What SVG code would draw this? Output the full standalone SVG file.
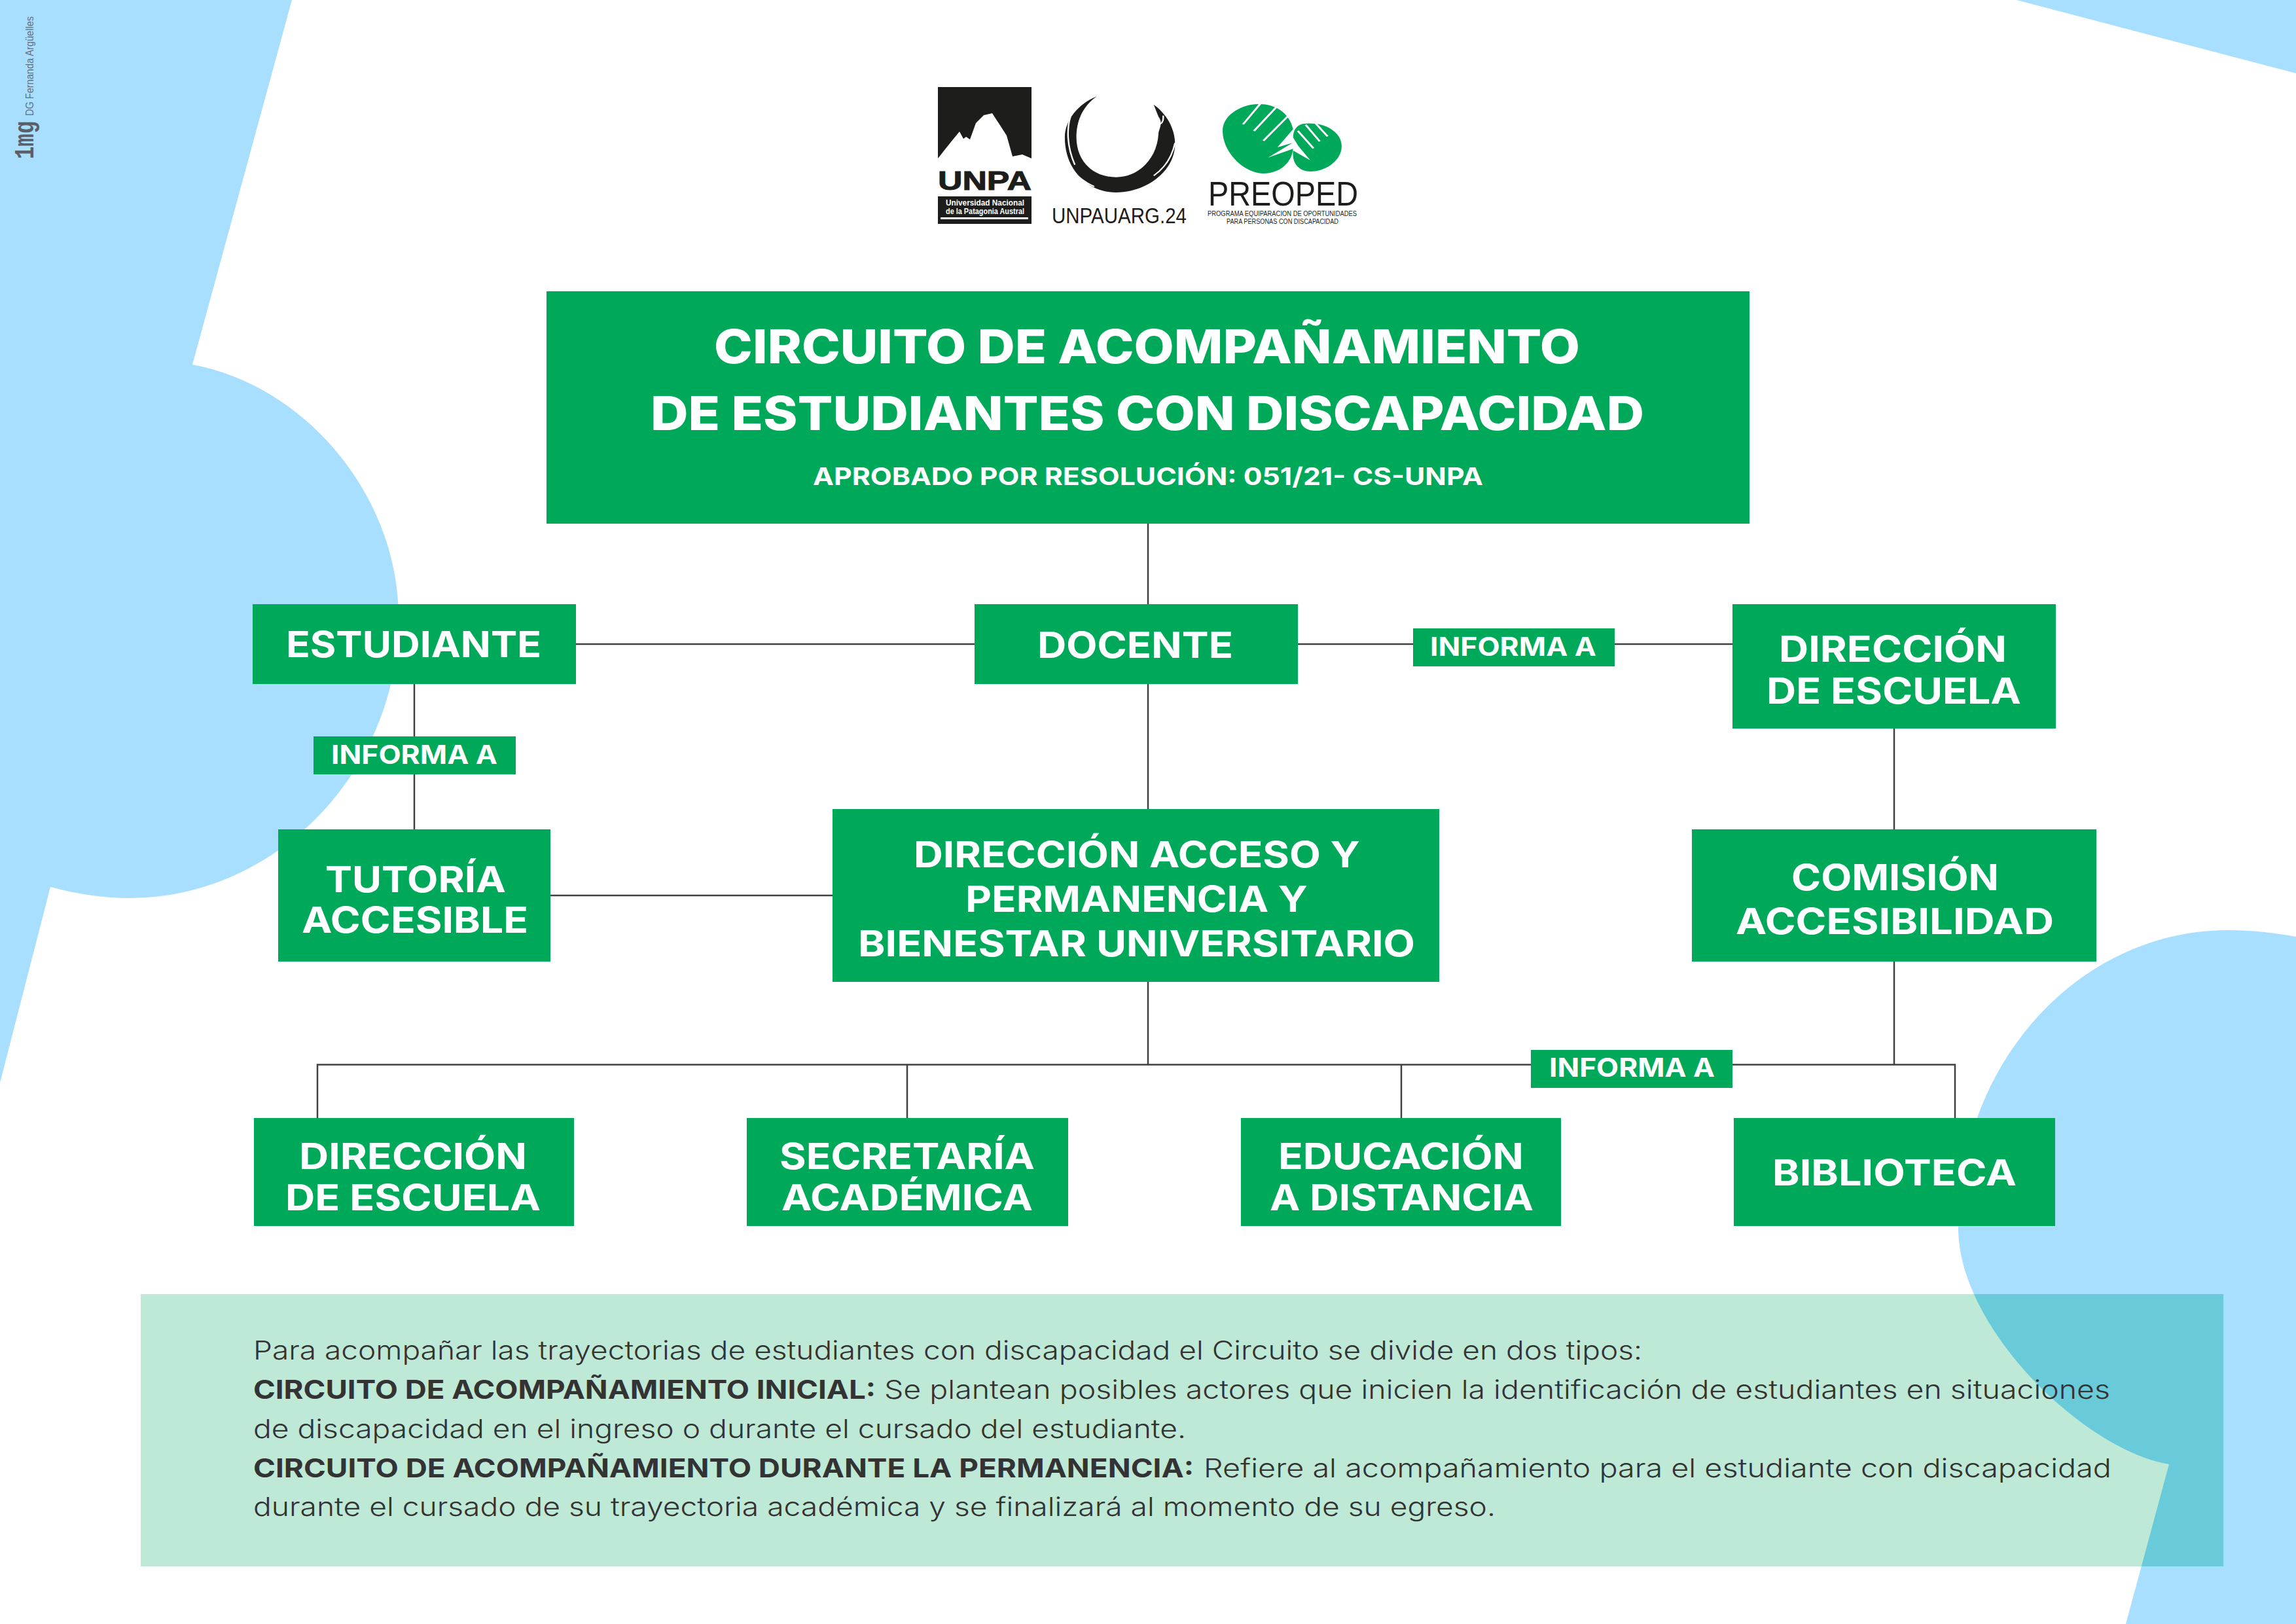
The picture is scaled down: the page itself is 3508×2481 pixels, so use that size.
<svg xmlns="http://www.w3.org/2000/svg" width="3508" height="2481" viewBox="0 0 3508 2481">
<style>
.bg{fill:#A8DFFF}
.box{fill:#00A85A}
.w{fill:#fff;font-family:"Inter","Liberation Sans",sans-serif;font-weight:700}
.t{font-size:72px;font-weight:800}
.s{font-size:37px}
.n{font-size:55px}
.g{font-size:39px}
.b{fill:#333;font-family:"Inter","Liberation Sans",sans-serif;font-size:40px;font-weight:300}
.bb{fill:#333;font-family:"Inter","Liberation Sans",sans-serif;font-size:40px;font-weight:700}
.c{fill:none;stroke:#404040;stroke-width:2.5}
.k{fill:#1D1D1B}
.lt{font-family:"Liberation Sans",sans-serif}
</style>
<defs>
<path id="br" d="M3248,2481 L3314,2237 C3185,2215 2992,2030 2992,1876 C2992,1620 3180,1421 3404,1421 C3440,1421 3475,1425 3508,1431 L3508,2481 Z"/>
<clipPath id="pn"><rect x="215" y="1977" width="3182" height="416"/></clipPath>
</defs>
<rect width="3508" height="2481" fill="#fff"/>
<g id="fondo">
<path class="bg" d="M0,0 L446,0 L294,557 C470,590 609,760 609,944 C609,1180 420,1372 198,1372 C155,1372 115,1365 77,1355 L0,1654 Z"/>
<path class="bg" d="M3081,0 L3508,112 L3508,0 Z"/>
<use href="#br" class="bg"/>
</g>
<g id="panel">
<rect x="215" y="1977" width="3182" height="416" fill="#BEE9D6"/>
<use href="#br" fill="#69CBD9" clip-path="url(#pn)"/>
<text class="b" x="387" y="2077" textLength="2122" lengthAdjust="spacingAndGlyphs">Para acompañar las trayectorias de estudiantes con discapacidad el Circuito se divide en dos tipos:</text>
<text class="bb" x="387" y="2137" textLength="951" lengthAdjust="spacingAndGlyphs">CIRCUITO DE ACOMPAÑAMIENTO INICIAL:</text>
<text class="b" x="1351" y="2137" textLength="1873" lengthAdjust="spacingAndGlyphs">Se plantean posibles actores que inicien la identificación de estudiantes en situaciones</text>
<text class="b" x="387" y="2197" textLength="1425" lengthAdjust="spacingAndGlyphs">de discapacidad en el ingreso o durante el cursado del estudiante.</text>
<text class="bb" x="387" y="2257" textLength="1437" lengthAdjust="spacingAndGlyphs">CIRCUITO DE ACOMPAÑAMIENTO DURANTE LA PERMANENCIA:</text>
<text class="b" x="1839" y="2257" textLength="1387" lengthAdjust="spacingAndGlyphs">Refiere al acompañamiento para el estudiante con discapacidad</text>
<text class="b" x="387" y="2316" textLength="1898" lengthAdjust="spacingAndGlyphs">durante el cursado de su trayectoria académica y se finalizará al momento de su egreso.</text>
</g>
<g id="firma" fill="#5F7180">
<text class="lt" transform="translate(51,177) rotate(-90)" font-size="16" textLength="152" lengthAdjust="spacingAndGlyphs">DG Fernanda Argüelles</text>
<text transform="translate(51,243) rotate(-90)" font-family="Liberation Mono,monospace" font-weight="700" font-size="42" textLength="58" lengthAdjust="spacingAndGlyphs" fill="#5A6068">1mg</text>
</g>
<g id="logo-unpa">
<path class="k" d="M1433,133 L1576,133 L1576,242 L1562,236 L1547,239 L1538,207 L1516,173 L1503,176 L1491,188 L1482,213 L1476,209 L1472,212 L1466,201 L1452,218 L1433,242 Z"/>
<text class="k lt" x="1433" y="290" font-size="40" font-weight="700" textLength="143" lengthAdjust="spacingAndGlyphs" stroke="#1D1D1B" stroke-width="1">UNPA</text>
<rect class="k" x="1433" y="300" width="143" height="42"/>
<text class="lt" x="1445" y="314" font-size="12" font-weight="700" fill="#fff" textLength="120" lengthAdjust="spacingAndGlyphs">Universidad  Nacional</text>
<text class="lt" x="1445" y="327" font-size="12" font-weight="700" fill="#fff" textLength="120" lengthAdjust="spacingAndGlyphs">de la Patagonia Austral</text>
<rect x="1437" y="332" width="134" height="3" fill="#fff"/>
</g>
<g id="logo-unpauarg">
<g transform="translate(1380,110) scale(0.4785,0.3333)">
<path class="k" d="M618,112 C560,145 516,220 516,300 C516,450 590,552 680,552 C780,552 868,450 868,330 C868,260 840,190 800,150 L815,205 C832,235 815,262 815,285 C810,400 750,482 680,482 C600,482 553,400 553,300 C553,230 570,160 618,112 Z"/>
<path fill="none" stroke="#fff" stroke-width="5" d="M534,205 C522,260 522,340 548,425 M868,325 C858,390 835,440 800,475 M540,445 C555,480 580,505 610,525 M830,200 C832,225 825,245 812,235"/>
</g>
<text class="k lt" x="1607" y="341" font-size="34" textLength="206" lengthAdjust="spacingAndGlyphs">UNPAUARG.24</text>
</g>
<g id="logo-preoped">
<g transform="translate(1380,110) scale(0.4785,0.3333)">
<path fill="#00A85A" d="M1110,150 C1170,135 1230,170 1245,262 L1195,345 L1243,325 L1165,392 L1245,352 C1240,420 1200,465 1150,465 C1090,465 1020,370 1020,270 C1020,210 1060,165 1110,150 Z"/>
<path fill="#00A85A" d="M1275,238 C1340,225 1400,270 1400,340 C1400,405 1350,456 1300,456 C1265,456 1240,420 1245,360 L1300,405 L1262,340 L1245,300 C1245,270 1255,245 1275,238 Z"/>
<path fill="none" stroke="#fff" stroke-width="7" d="M1142,142 L1085,240 M1192,160 L1120,270 M1228,203 L1150,315 M1315,232 L1355,295 M1285,242 L1330,318 M1260,270 L1310,350"/>
</g>
<text class="k lt" x="1846" y="314" font-size="52" textLength="229" lengthAdjust="spacingAndGlyphs">PREOPED</text>
<text class="k lt" x="1845" y="330" font-size="10" textLength="228" lengthAdjust="spacingAndGlyphs">PROGRAMA EQUIPARACION DE OPORTUNIDADES</text>
<text class="k lt" x="1874" y="342" font-size="10" textLength="171" lengthAdjust="spacingAndGlyphs">PARA PERSONAS CON DISCAPACIDAD</text>
</g>
<g id="connectors">
<path class="c" d="M1754,800 V1236"/>
<path class="c" d="M880,984 H1489"/>
<path class="c" d="M1983,984 H2647"/>
<path class="c" d="M633,1045 V1267"/>
<path class="c" d="M841,1368 H1272"/>
<path class="c" d="M2894,1113 V1626"/>
<path class="c" d="M1754,1500 V1626"/>
<path class="c" d="M485,1708 V1626.500 H2987 V1708"/>
<path class="c" d="M1386,1626 V1708"/>
<path class="c" d="M2141,1626 V1708"/>
</g>
<g id="titulo">
<rect class="box" x="835" y="445" width="1838" height="355"/>
<text class="w t" x="1091" y="555" textLength="1323" lengthAdjust="spacingAndGlyphs">CIRCUITO DE ACOMPAÑAMIENTO</text>
<text class="w t" x="994" y="657" textLength="1518" lengthAdjust="spacingAndGlyphs">DE ESTUDIANTES CON DISCAPACIDAD</text>
<text class="w s" x="1242" y="741" textLength="1024" lengthAdjust="spacingAndGlyphs">APROBADO POR RESOLUCIÓN: 051/21- CS-UNPA</text>
</g>
<g id="estudiante">
<rect class="box" x="386" y="923" width="494" height="122"/>
<text class="w n" x="437" y="1004" textLength="390" lengthAdjust="spacingAndGlyphs">ESTUDIANTE</text>
</g>
<g id="docente">
<rect class="box" x="1489" y="923" width="494" height="122"/>
<text class="w n" x="1585" y="1005" textLength="299" lengthAdjust="spacingAndGlyphs">DOCENTE</text>
</g>
<g id="direccion-escuela-1">
<rect class="box" x="2647" y="923" width="494" height="190"/>
<text class="w n" x="2718" y="1011" textLength="348" lengthAdjust="spacingAndGlyphs">DIRECCIÓN</text>
<text class="w n" x="2699" y="1075" textLength="389" lengthAdjust="spacingAndGlyphs">DE ESCUELA</text>
</g>
<g id="informa-1">
<rect class="box" x="479" y="1125" width="309" height="58"/>
<text class="w g" x="506" y="1167" textLength="254" lengthAdjust="spacingAndGlyphs">INFORMA A</text>
</g>
<g id="informa-2">
<rect class="box" x="2159" y="960" width="308" height="58"/>
<text class="w g" x="2185" y="1002" textLength="254" lengthAdjust="spacingAndGlyphs">INFORMA A</text>
</g>
<g id="informa-3">
<rect class="box" x="2339" y="1604" width="308" height="58"/>
<text class="w g" x="2367" y="1645" textLength="253" lengthAdjust="spacingAndGlyphs">INFORMA A</text>
</g>
<g id="tutoria">
<rect class="box" x="425" y="1267" width="416" height="202"/>
<text class="w n" x="497" y="1363" textLength="276" lengthAdjust="spacingAndGlyphs">TUTORÍA</text>
<text class="w n" x="461" y="1425" textLength="346" lengthAdjust="spacingAndGlyphs">ACCESIBLE</text>
</g>
<g id="direccion-acceso">
<rect class="box" x="1272" y="1236" width="927" height="264"/>
<text class="w n" x="1396" y="1325" textLength="682" lengthAdjust="spacingAndGlyphs">DIRECCIÓN ACCESO Y</text>
<text class="w n" x="1475" y="1393" textLength="523" lengthAdjust="spacingAndGlyphs">PERMANENCIA Y</text>
<text class="w n" x="1311" y="1461" textLength="851" lengthAdjust="spacingAndGlyphs">BIENESTAR UNIVERSITARIO</text>
</g>
<g id="comision">
<rect class="box" x="2585" y="1267" width="618" height="202"/>
<text class="w n" x="2737" y="1360" textLength="317" lengthAdjust="spacingAndGlyphs">COMISIÓN</text>
<text class="w n" x="2652" y="1427" textLength="486" lengthAdjust="spacingAndGlyphs">ACCESIBILIDAD</text>
</g>
<g id="direccion-escuela-2">
<rect class="box" x="388" y="1708" width="489" height="165"/>
<text class="w n" x="457" y="1786" textLength="348" lengthAdjust="spacingAndGlyphs">DIRECCIÓN</text>
<text class="w n" x="436" y="1849" textLength="390" lengthAdjust="spacingAndGlyphs">DE ESCUELA</text>
</g>
<g id="secretaria">
<rect class="box" x="1141" y="1708" width="491" height="165"/>
<text class="w n" x="1191" y="1786" textLength="390" lengthAdjust="spacingAndGlyphs">SECRETARÍA</text>
<text class="w n" x="1194" y="1849" textLength="384" lengthAdjust="spacingAndGlyphs">ACADÉMICA</text>
</g>
<g id="educacion">
<rect class="box" x="1896" y="1708" width="489" height="165"/>
<text class="w n" x="1953" y="1786" textLength="375" lengthAdjust="spacingAndGlyphs">EDUCACIÓN</text>
<text class="w n" x="1940" y="1849" textLength="403" lengthAdjust="spacingAndGlyphs">A DISTANCIA</text>
</g>
<g id="biblioteca">
<rect class="box" x="2649" y="1708" width="491" height="165"/>
<text class="w n" x="2708" y="1811" textLength="373" lengthAdjust="spacingAndGlyphs">BIBLIOTECA</text>
</g>
</svg>
